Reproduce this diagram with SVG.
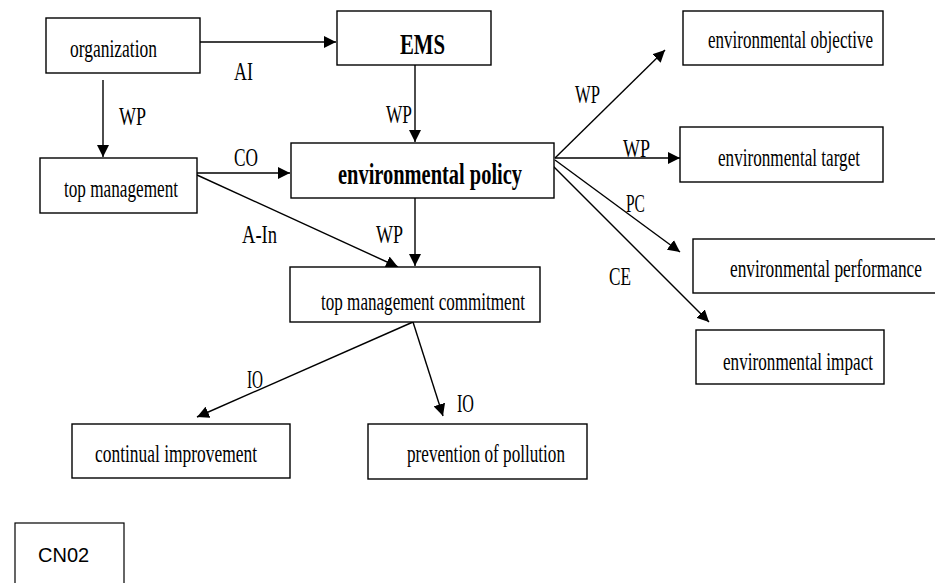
<svg xmlns="http://www.w3.org/2000/svg" width="935" height="583" viewBox="0 0 935 583">
<style>
.box{fill:#fff;stroke:#000;stroke-width:1.4}
.t{font-family:"Liberation Serif","Times New Roman",serif;font-size:25px;fill:#000}
.b{font-weight:bold;font-size:30px}
.lb{font-family:"Liberation Serif","Times New Roman",serif;font-size:25px;fill:#000}
.c{stroke:#000;stroke-width:1.4;fill:none;marker-end:url(#ah)}
.s{font-family:"Liberation Sans",Arial,sans-serif;font-size:20px;fill:#000}
</style>
<defs>
<marker id="ah" markerUnits="userSpaceOnUse" markerWidth="14" markerHeight="12" refX="12" refY="6" orient="auto">
<path d="M0,0 L12,6 L0,12 Z" fill="#000"/>
</marker>
</defs>
<rect width="935" height="583" fill="#fff"/>
<g id="connectors">
<line class="c" x1="197" y1="42" x2="336" y2="42"/>
<line class="c" x1="103" y1="80" x2="103" y2="157"/>
<line class="c" x1="415" y1="65" x2="415" y2="142"/>
<line class="c" x1="197" y1="173" x2="290" y2="173"/>
<line class="c" x1="197" y1="175" x2="398" y2="267"/>
<line class="c" x1="415" y1="198" x2="415" y2="266"/>
<line class="c" x1="555" y1="158" x2="665" y2="50"/>
<line class="c" x1="555" y1="158" x2="680" y2="158"/>
<line class="c" x1="555" y1="160" x2="680" y2="252"/>
<line class="c" x1="553" y1="166" x2="709" y2="322"/>
<line class="c" x1="413" y1="322" x2="197" y2="417"/>
<line class="c" x1="413" y1="322" x2="443" y2="416"/>
<text class="lb" transform="matrix(0.7,0,0,1,234,80)" textLength="27" lengthAdjust="spacingAndGlyphs">AI</text>
<text class="lb" transform="matrix(0.7,0,0,1,119,125)" textLength="38.6" lengthAdjust="spacingAndGlyphs">WP</text>
<text class="lb" transform="matrix(0.7,0,0,1,386,123)" textLength="37.1" lengthAdjust="spacingAndGlyphs">WP</text>
<text class="lb" transform="matrix(0.7,0,0,1,234,166)" textLength="34.3" lengthAdjust="spacingAndGlyphs">CO</text>
<text class="lb" transform="matrix(0.7,0,0,1,242,243)" textLength="50" lengthAdjust="spacingAndGlyphs">A-In</text>
<text class="lb" transform="matrix(0.7,0,0,1,376,243)" textLength="38.6" lengthAdjust="spacingAndGlyphs">WP</text>
<text class="lb" transform="matrix(0.7,0,0,1,247,388)" textLength="22.9" lengthAdjust="spacingAndGlyphs">IO</text>
<text class="lb" transform="matrix(0.7,0,0,1,457,412)" textLength="24.3" lengthAdjust="spacingAndGlyphs">IO</text>
<text class="lb" transform="matrix(0.7,0,0,1,575,103)" textLength="35.7" lengthAdjust="spacingAndGlyphs">WP</text>
<text class="lb" transform="matrix(0.7,0,0,1,623,157)" textLength="38.6" lengthAdjust="spacingAndGlyphs">WP</text>
<text class="lb" transform="matrix(0.7,0,0,1,626,212)" textLength="27" lengthAdjust="spacingAndGlyphs">PC</text>
<text class="lb" transform="matrix(0.7,0,0,1,609,285)" textLength="31.4" lengthAdjust="spacingAndGlyphs">CE</text>
</g>
<g id="organization">
<rect class="box" x="46" y="18" width="154" height="55"/>
<text class="t" transform="matrix(0.7,0,0,1,70,57)" textLength="124.3" lengthAdjust="spacingAndGlyphs">organization</text>
</g>
<g id="ems">
<rect class="box" x="337" y="11" width="154" height="54"/>
<text class="t b" transform="matrix(0.7,0,0,1,400,54)" textLength="64.3" lengthAdjust="spacingAndGlyphs">EMS</text>
</g>
<g id="top-management">
<rect class="box" x="40" y="158" width="157" height="55"/>
<text class="t" transform="matrix(0.7,0,0,1,64,197)" textLength="162.9" lengthAdjust="spacingAndGlyphs">top management</text>
</g>
<g id="environmental-policy">
<rect class="box" x="291" y="143" width="263" height="55"/>
<text class="t b" transform="matrix(0.7,0,0,1,338,184)" textLength="262.9" lengthAdjust="spacingAndGlyphs">environmental policy</text>
</g>
<g id="top-management-commitment">
<rect class="box" x="290" y="267" width="250" height="55"/>
<text class="t" transform="matrix(0.7,0,0,1,321,310)" textLength="291.4" lengthAdjust="spacingAndGlyphs">top management commitment</text>
</g>
<g id="continual-improvement">
<rect class="box" x="72" y="424" width="218" height="54"/>
<text class="t" transform="matrix(0.7,0,0,1,95,462)" textLength="231.4" lengthAdjust="spacingAndGlyphs">continual improvement</text>
</g>
<g id="prevention-of-pollution">
<rect class="box" x="368" y="424" width="219" height="55"/>
<text class="t" transform="matrix(0.7,0,0,1,407,462)" textLength="225.7" lengthAdjust="spacingAndGlyphs">prevention of pollution</text>
</g>
<g id="environmental-objective">
<rect class="box" x="683" y="11" width="200" height="54"/>
<text class="t" transform="matrix(0.7,0,0,1,708,48)" textLength="235.7" lengthAdjust="spacingAndGlyphs">environmental objective</text>
</g>
<g id="environmental-target">
<rect class="box" x="680" y="127" width="203" height="55"/>
<text class="t" transform="matrix(0.7,0,0,1,718,166)" textLength="202.9" lengthAdjust="spacingAndGlyphs">environmental target</text>
</g>
<g id="environmental-performance">
<rect class="box" x="693" y="239" width="250" height="54"/>
<text class="t" transform="matrix(0.7,0,0,1,730,277)" textLength="274.3" lengthAdjust="spacingAndGlyphs">environmental performance</text>
</g>
<g id="environmental-impact">
<rect class="box" x="696" y="330" width="188" height="54"/>
<text class="t" transform="matrix(0.7,0,0,1,723,370)" textLength="214.3" lengthAdjust="spacingAndGlyphs">environmental impact</text>
</g>
<g id="cn02">
<rect class="box" x="15" y="523" width="109" height="70" style="stroke-width:1.2"/>
<text class="s" x="38" y="562">CN02</text>
</g>
</svg>
